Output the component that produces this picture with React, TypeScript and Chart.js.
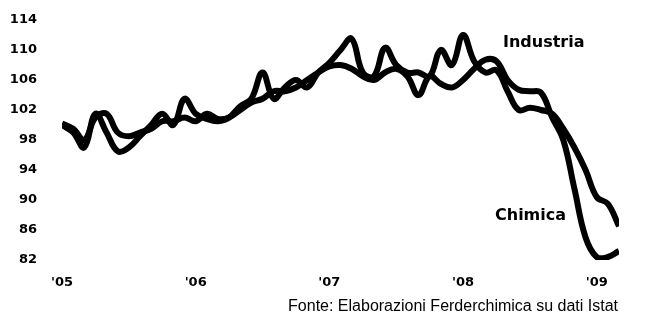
import React, { useEffect, useRef } from "react";
import { Chart, registerables } from "chart.js";

Chart.register(...registerables);

// Monthly index values, Jan 2005 .. Mar 2009
const industria = [
  100, 99, 97, 101.5, 99, 96.5, 97, 98.5, 100, 101.5, 100, 103.5,
  101.5, 100.8, 100.5, 101, 102.5, 103.5, 107, 103.5, 105, 106, 105, 107,
  108.3, 110, 111.5, 107, 106.5, 110.3, 108, 107, 107, 106.5, 110, 108,
  112, 108.5, 107, 107.3, 104.5, 102, 102.3, 102, 101.5, 99.5, 97, 94,
  90.4, 89.5, 86.5,
];
const chimica = [
  100.2, 99.5, 98, 101, 101.5, 99, 98.5, 99, 99.5, 100.5, 100.5, 101,
  100.5, 101.5, 100.8, 101, 102, 103, 103.5, 104.5, 104.5, 105, 106, 107,
  107.8, 108, 107.5, 106.5, 106, 107, 107.5, 106.5, 104, 106.5, 105.5, 105,
  106, 107.5, 108.7, 108.5, 106, 104.7, 104.5, 104.3, 101, 98, 91.5, 85,
  82.4, 82.4, 83.2,
];
const yearTickMonths = [0, 12, 24, 36, 48];
const yearLabels = ["'05", "'06", "'07", "'08", "'09"];
const yTicks = [82, 86, 90, 94, 98, 102, 106, 110, 114];
const seriesNames = ["Industria", "Chimica"];
const sourceText = "Fonte: Elaborazioni Ferderchimica su dati Istat";

const boldFont = "'DejaVu Sans', sans-serif";

export default function App() {
  const ref = useRef<HTMLCanvasElement | null>(null);

  useEffect(() => {
    if (!ref.current) return;
    const mk = (arr: number[]) => arr.map((v, i) => ({ x: i, y: v }));
    const chart = new Chart(ref.current, {
      type: "line",
      data: {
        datasets: [
          {
            label: seriesNames[0],
            data: mk(industria),
            borderColor: "#000",
            borderWidth: 6,
            pointRadius: 0,
            tension: 0.4,
            fill: false,
          },
          {
            label: seriesNames[1],
            data: mk(chimica),
            borderColor: "#000",
            borderWidth: 6,
            pointRadius: 0,
            tension: 0.4,
            fill: false,
          },
        ],
      },
      options: {
        responsive: false,
        animation: false,
        layout: { padding: { top: 20, right: 40, left: 0, bottom: 0 } },
        plugins: {
          legend: { display: false },
          tooltip: { enabled: false },
        },
        scales: {
          x: {
            type: "linear",
            min: 0,
            max: industria.length - 1,
            grid: { display: false, drawTicks: false },
            border: { display: false },
            afterBuildTicks: (s: any) => {
              s.ticks = yearTickMonths.map((v) => ({ value: v }));
            },
            afterFit: (s: any) => {
              s.height = 53;
              s.paddingLeft = 0;
              s.paddingRight = 0;
            },
            ticks: {
              autoSkip: false,
              maxRotation: 0,
              padding: 15,
              color: "#000",
              font: { family: boldFont, size: 13, weight: "bold" },
              callback: (v: any) => {
                const i = yearTickMonths.indexOf(Number(v));
                return i >= 0 ? yearLabels[i] : "";
              },
            },
          },
          y: {
            min: 82,
            max: 114,
            grid: { display: false, drawTicks: false },
            border: { display: false },
            afterBuildTicks: (s: any) => {
              s.ticks = yTicks.map((v) => ({ value: v }));
            },
            afterFit: (s: any) => {
              s.width = 62;
              s.paddingTop = 0;
              s.paddingBottom = 0;
            },
            ticks: {
              padding: 25,
              color: "#000",
              font: { family: boldFont, size: 13, weight: "bold" },
            },
          },
        },
      },
    });
    return () => chart.destroy();
  }, []);

  const labelStyle: React.CSSProperties = {
    position: "absolute",
    fontFamily: boldFont,
    fontWeight: "bold",
    fontSize: 16,
    lineHeight: "16px",
    color: "#000",
    whiteSpace: "nowrap",
  };

  return (
    <div
      style={{
        position: "absolute",
        left: 0,
        top: 0,
        width: 659,
        height: 313,
        background: "#fff",
        overflow: "hidden",
      }}
    >
      <canvas ref={ref} width={659} height={313} style={{ display: "block" }} />
      <div style={{ ...labelStyle, left: 503, top: 34 }}>{seriesNames[0]}</div>
      <div style={{ ...labelStyle, left: 495, top: 207 }}>{seriesNames[1]}</div>
      <div
        style={{
          position: "absolute",
          right: 41,
          top: 298,
          fontFamily: "'Liberation Sans', Arial, sans-serif",
          fontSize: 16,
          lineHeight: "16px",
          color: "#000",
          whiteSpace: "nowrap",
        }}
      >
        {sourceText}
      </div>
    </div>
  );
}
